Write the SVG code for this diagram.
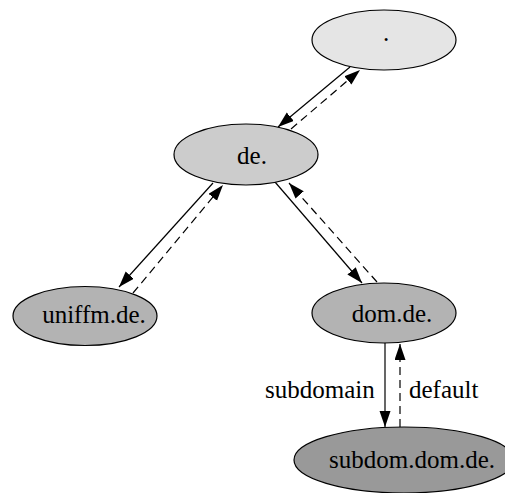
<svg xmlns="http://www.w3.org/2000/svg" width="505" height="493" viewBox="0 0 505 493">
<style>
  .node ellipse { stroke: #000; stroke-width: 1.2; }
  text { font-family: 'Times New Roman', 'Liberation Serif', serif; font-size: 25px; fill: #000; }
  .node text { text-anchor: middle; }
  .edge { stroke: #000; stroke-width: 1.2; fill: none; marker-end: url(#arr); }
  .dash { stroke-dasharray: 8 5; }
</style>
<defs>
  <marker id="arr" markerUnits="userSpaceOnUse" markerWidth="17" markerHeight="12" refX="16" refY="5.5" orient="auto">
    <path d="M0,0 L16,5.5 L0,11 z" fill="#000"/>
  </marker>
</defs>
<rect width="505" height="493" fill="#fff"/>
<g id="connectors">
  <line class="edge" x1="350" y1="67" x2="278" y2="127"/>
  <line class="edge dash" x1="291" y1="129" x2="360" y2="70"/>
  <line class="edge" x1="213" y1="183" x2="119" y2="287"/>
  <line class="edge dash" x1="133" y1="293" x2="223" y2="185"/>
  <line class="edge" x1="275" y1="182" x2="362" y2="283"/>
  <line class="edge dash" x1="377" y1="282" x2="289" y2="183"/>
  <line class="edge" x1="385" y1="343" x2="385" y2="427"/>
  <line class="edge dash" x1="400" y1="427" x2="400" y2="344"/>
  <text x="265" y="398">subdomain</text>
  <text x="409" y="398">default</text>
</g>
<g id="root" class="node">
  <ellipse cx="384" cy="40" rx="72" ry="30" fill="#e5e5e5"/>
  <text x="386" y="41">.</text>
</g>
<g id="de" class="node">
  <ellipse cx="246" cy="154.5" rx="72" ry="30.5" fill="#cccccc"/>
  <text x="252" y="164">de.</text>
</g>
<g id="uniffm" class="node">
  <ellipse cx="85" cy="316" rx="72" ry="29.5" fill="#b3b3b3"/>
  <text x="94" y="323">uniffm.de.</text>
</g>
<g id="dom" class="node">
  <ellipse cx="384" cy="313" rx="72" ry="30" fill="#b3b3b3"/>
  <text x="392" y="322">dom.de.</text>
</g>
<g id="subdom" class="node">
  <ellipse cx="404" cy="460" rx="110" ry="33" fill="#999999"/>
  <text x="412" y="468">subdom.dom.de.</text>
</g>
</svg>
